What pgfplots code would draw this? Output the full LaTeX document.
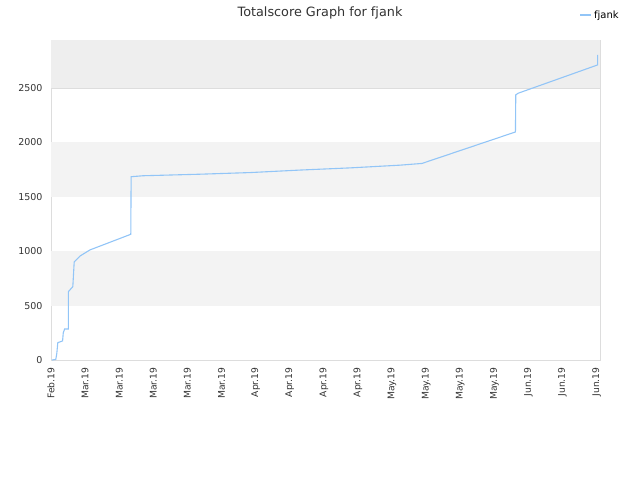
\documentclass[border=0pt]{standalone}
\usepackage{pgfplots}
\pgfplotsset{compat=1.18}
\usepackage{fontspec}
\setmainfont{DejaVu Sans}
\definecolor{linec}{HTML}{92C5F7}
\definecolor{bandc}{HTML}{F3F3F3}
\definecolor{bandtop}{HTML}{EEEEEE}
\definecolor{gridc}{HTML}{DDDDDD}
\definecolor{txt}{HTML}{333333}
\begin{document}
\begin{tikzpicture}
\useasboundingbox (0,0) rectangle (640pt,480pt);
\begin{axis}[
  at={(51pt,120pt)}, anchor=south west,
  scale only axis, width=549pt, height=320pt,
  xmin=0, xmax=16.1, ymin=0, ymax=2940,
  axis line style={gridc},
  ytick={0,500,1000,1500,2000,2500},
  xtick={0,...,16},
  xticklabels={Feb.19,Mar.19,Mar.19,Mar.19,Mar.19,Mar.19,Apr.19,Apr.19,Apr.19,Apr.19,May.19,May.19,May.19,May.19,Jun.19,Jun.19,Jun.19},
  x tick label style={rotate=90, anchor=east, font=\fontsize{9.2}{11}\selectfont, text=txt},
  y tick label style={font=\fontsize{9.5}{11}\selectfont, text=txt},
  xticklabel shift=4pt, yticklabel shift=5pt,
  /pgf/number format/assume math mode=true,
  /pgf/number format/1000 sep={},
  major tick length=0pt,
  ymajorgrids, grid style={gridc, line width=0.6pt},
  title={Totalscore Graph for fjank},
  title style={font=\fontsize{12.8}{14}\selectfont, text=txt, at={(rel axis cs:0.49,1)}, anchor=base, yshift=18pt},
  legend style={at={(rel axis cs:1.038,1.078)}, anchor=east, draw=none, fill=none, font=\fontsize{10}{12}\selectfont, inner sep=0pt},
  legend image code/.code={\draw[linec, line width=1.6pt] (0cm,0cm) -- (0.38cm,0cm);},
]
\fill[bandc] (axis cs:0,500) rectangle (axis cs:16.1,1000);
\fill[bandc] (axis cs:0,1500) rectangle (axis cs:16.1,2000);
\fill[bandtop] (axis cs:0,2500) rectangle (axis cs:16.1,2940);
\addplot[linec, line width=1.1pt] coordinates {
(0.03,0) (0.14,5) (0.17,60) (0.2,160) (0.34,175) (0.36,250) (0.40,285) (0.51,285) (0.51,628) (0.60,660) (0.64,674) (0.68,900) (0.85,955) (1.14,1011) (2.34,1155) (2.35,1684) (2.71,1693) (3.2,1697) (4.37,1707) (5.84,1722) (7.3,1745) (8.77,1765) (10.23,1790) (10.88,1806) (13.62,2095) (13.63,2436) (13.70,2451) (16.03,2711) (16.03,2803)
};
\addlegendentry{fjank}
\end{axis}
\end{tikzpicture}
\end{document}
